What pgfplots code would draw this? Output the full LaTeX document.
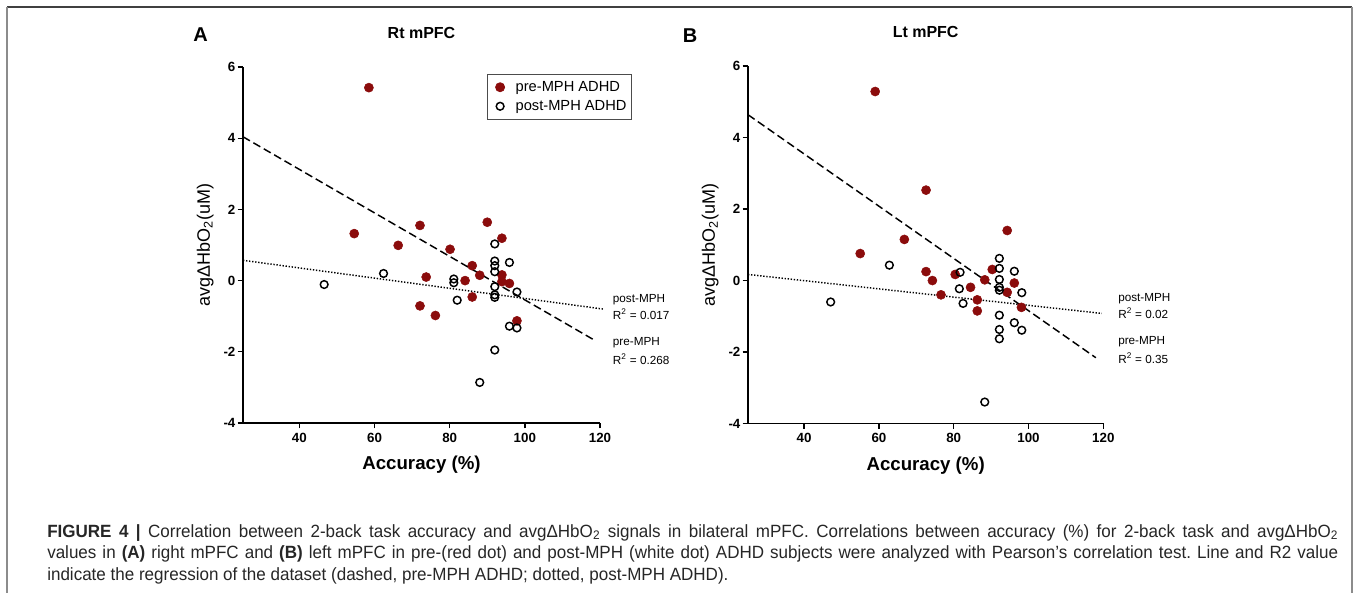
\documentclass[border=0pt]{standalone}
\usepackage{pgfplots}
\pgfplotsset{compat=1.18}
\usepackage{fontspec}
\setmainfont{Liberation Sans}
\newfontfamily\capfont[FakeStretch=0.96]{Liberation Sans}
\definecolor{predot}{RGB}{139,12,12}

\pgfplotsset{
  panel/.style={
    scale only axis, width=267.75pt, height=267pt,
    xmin=25, xmax=120, ymin=-4, ymax=6,
    axis x line=bottom, axis y line=left,
    axis line style={-, line width=1.3pt},
    xtick={40,60,80,100,120}, xticklabels={40,60,80,100,120},
    ytick={-4,-2,0,2,4,6}, yticklabels={-4,-2,0,2,4,6},
    tick align=outside, major tick length=4pt,
    tick style={line width=1pt, black},
    ticklabel style={font=\bfseries\fontsize{10}{11}\selectfont},
    yticklabel style={inner xsep=1.5pt},
    xlabel={Accuracy (\%)},
    xlabel style={font=\bfseries\fontsize{14}{16}\selectfont, at={(axis description cs:0.5,-0.118)}, anchor=center},
    ylabel={avgΔHbO\textsubscript{2}(uM)},
    ylabel style={font=\fontsize{13.5}{15}\selectfont, at={(axis description cs:-0.106,0.5)}, anchor=center},
    title style={font=\bfseries\fontsize{12}{14}\selectfont, at={(axis description cs:0.5,1.074)}, anchor=center},
    clip=false,
  },
  pre/.style={only marks, mark=*, mark size=3.4pt, color=predot},
  post/.style={only marks, mark=o, mark size=2.9pt, mark options={line width=1.1pt, fill=white, draw=black}},
  dashfit/.style={no marks, black, line width=1.1pt, dash pattern=on 6pt off 3pt},
  dotfit/.style={no marks, black, line width=1.1pt, dash pattern=on 1pt off 1.3pt},
}

\begin{document}
\frenchspacing
\begin{tikzpicture}
\useasboundingbox (0,0) rectangle (1017.75pt,-444.75pt);
% frame
\draw[black!75, line width=0.9pt] (5.25pt,-5.25pt) -- (1014pt,-5.25pt);
\draw[black!45, line width=0.9pt] (5.25pt,-5.25pt) -- (5.25pt,-444.75pt);
\draw[black!45, line width=0.9pt] (1014pt,-5.25pt) -- (1014pt,-444.75pt);

% panel A
\begin{axis}[panel, at={(182.25pt,-317.25pt)}, anchor=south west,
  title={Rt mPFC},
  legend style={at={(0.684,0.98)}, anchor=north west, draw=black!70, line width=0.6pt,
    font=\fontsize{11}{12.5}\selectfont, row sep=1.2pt, inner xsep=2pt, inner ysep=3pt},
  legend image code/.code={\path[draw=none, fill=none] (0,0) -- (0.6cm,0); \draw[#1] plot coordinates {(0.26cm,0cm)};},
  legend cell align=left]
\addplot[pre] coordinates {
(54.6,1.32) (58.5,5.42) (66.3,0.99) (72.1,1.55) (72.1,-0.71) (73.75,0.10)
(76.2,-0.98) (80.1,0.88) (84.1,0.00) (86.0,0.42) (86.0,-0.46) (88.0,0.15)
(90.0,1.64) (93.9,1.19) (93.9,0.16) (93.9,-0.03) (95.9,-0.08) (97.9,-1.13)};
\addlegendentry{pre-MPH ADHD}
\addplot[post] coordinates {
(46.6,-0.11) (62.4,0.20) (81.1,0.045) (81.1,-0.06) (82.0,-0.55) (88.0,-2.86)
(92.0,1.03) (92.0,0.55) (92.0,0.42) (92.0,0.25) (92.0,-0.17) (92.0,-0.40)
(92.0,-0.47) (92.0,-1.95) (95.9,0.51) (95.9,-1.28) (97.9,-0.32) (97.9,-1.33)};
\addlegendentry{post-MPH ADHD}
\addplot[dashfit, forget plot] coordinates {(25,4.04) (118.8,-1.69)};
\addplot[dotfit, forget plot] coordinates {(25,0.57) (120.9,-0.80)};
\end{axis}

% panel B
\begin{axis}[panel, at={(561pt,-317.6pt)}, anchor=south west, width=266.5pt, height=268pt,
  title={Lt mPFC}]
\addplot[pre] coordinates {
(55.0,0.755) (59.0,5.29) (66.8,1.15) (72.6,2.53) (72.6,0.25) (74.3,0.0)
(76.6,-0.40) (80.4,0.17) (84.5,-0.19) (86.3,-0.54) (86.3,-0.85) (88.3,0.02)
(90.3,0.31) (94.3,1.40) (94.3,-0.33) (96.2,-0.07) (98.1,-0.75)};
\addplot[post] coordinates {
(47.1,-0.60) (62.8,0.43) (81.7,0.23) (81.5,-0.23) (82.5,-0.64) (88.3,-3.40)
(92.2,0.62) (92.2,0.34) (92.2,0.03) (92.2,-0.19) (92.2,-0.27) (92.2,-0.97)
(92.2,-1.37) (92.2,-1.63) (96.2,0.26) (96.2,-1.18) (98.2,-0.34) (98.2,-1.39)};
\addplot[dashfit] coordinates {(25,4.64) (118.0,-2.16)};
\addplot[dotfit] coordinates {(25,0.17) (119.6,-0.92)};
\end{axis}

% panel letters
\node[font=\bfseries\fontsize{15}{17}\selectfont] at (150.5pt,-26.25pt) {A};
\node[font=\bfseries\fontsize{15}{17}\selectfont] at (517.5pt,-27pt) {B};

% fit labels
\begin{scope}[every node/.style={anchor=west, inner sep=0pt, font=\fontsize{8.8}{10}\selectfont}]
\node at (459.5pt,-225pt) {post-MPH};
\node at (459.5pt,-235.5pt) {R\textsuperscript{2} = 0.017};
\node at (459.5pt,-257.25pt) {pre-MPH};
\node at (459.5pt,-269.25pt) {R\textsuperscript{2} = 0.268};
\node at (838.5pt,-224.25pt) {post-MPH};
\node at (838.5pt,-235pt) {R\textsuperscript{2} = 0.02};
\node at (838.5pt,-256.5pt) {pre-MPH};
\node at (838.5pt,-268.5pt) {R\textsuperscript{2} = 0.35};
\end{scope}

% caption
\begin{scope}[every node/.style={anchor=base west, inner sep=0pt, font=\capfont\fontsize{13.3}{15}\selectfont, text=black!85}]
\node at (35.25pt,-402.75pt) {\makebox[968.25pt][s]{\textbf{FIGURE 4 |} Correlation between 2-back task accuracy and avgΔHbO\textsubscript{2} signals in bilateral mPFC. Correlations between accuracy (\%) for 2-back task and avgΔHbO\textsubscript{2}}};
\node at (35.25pt,-418.9pt) {\makebox[968.25pt][s]{values in \textbf{(A)} right mPFC and \textbf{(B)} left mPFC in pre-(red dot) and post-MPH (white dot) ADHD subjects were analyzed with Pearson’s correlation test. Line and R2 value}};
\node at (35.25pt,-435pt) {indicate the regression of the dataset (dashed, pre-MPH ADHD; dotted, post-MPH ADHD).};
\end{scope}
\end{tikzpicture}
\end{document}
